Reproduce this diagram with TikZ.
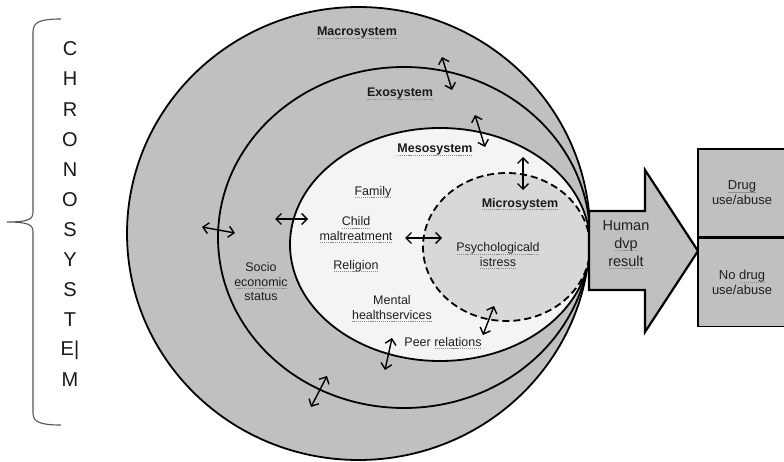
\documentclass[tikz,border=0pt]{standalone}
\usepackage{fontspec}
\setmainfont{Liberation Sans}
\usepackage{xcolor}
\usepackage{tikz}
\usetikzlibrary{arrows.meta,positioning}
\definecolor{ringgray}{RGB}{192,192,192}
\definecolor{mesofill}{RGB}{244,244,244}
\definecolor{microfill}{RGB}{216,216,216}
\definecolor{bracegray}{RGB}{85,85,85}
% spell-check style dotted underline
\newcommand\spell[1]{\leavevmode\setbox0\hbox{#1}\rlap{\copy0}\raisebox{-2.6pt}{\color{black!45}\hbox to \wd0{\xleaders\hbox{\kern0.4pt\rule{1.1pt}{0.8pt}\kern0.4pt}\hfill}}}

\begin{document}
\begin{tikzpicture}[
  x=1pt, y=-1pt,
  every node/.style={font=\fontsize{12.5}{14.5}\selectfont, text=black!88, align=center, inner sep=0pt}
]
  % Styles
  \tikzstyle{layer} = [draw=black, line width=1.8pt]
  \tikzstyle{title} = [font=\fontsize{12.5}{14.5}\selectfont\bfseries, text=black!90]
  \tikzstyle{link} = [<->, >={Straight Barb[length=5.5pt,width=11pt]}, line width=1.4pt]
  \tikzstyle{outcome} = [rectangle, draw=black, line width=1.6pt, fill=ringgray, minimum width=88pt, minimum height=88pt, font=\fontsize{13}{15}\selectfont]

  \useasboundingbox (0,0) rectangle (784,462);
  \fill[white] (0,0) rectangle (784,462);

  % Nested systems
  \draw[layer, fill=ringgray] (358.5,233.5) ellipse [x radius=231.5, y radius=226.5];
  \draw[layer, fill=ringgray] (404,237.5) ellipse [x radius=186, y radius=170.5];
  \draw[layer, fill=mesofill] (440,244.5) ellipse [x radius=150, y radius=116.5];
  \draw[layer, fill=microfill, dash pattern=on 7pt off 4pt] (506.5,247) ellipse [x radius=83.5, y radius=74];

  % Result arrow
  \draw[layer, line width=2.2pt, fill=ringgray, line join=miter] (589,211) -- (645,211) -- (645,170) -- (698,251) -- (645,332) -- (645,290) -- (589,290) -- cycle;
  \node[font=\fontsize{14.5}{18}\selectfont] (result) at (626,245) {Human\\\spell{dvp}\\\spell{result}};

  % Outcomes
  \node[outcome] (drug) at (742,193) {\spell{Drug}\\use/abuse};
  \node[outcome, below=0pt of drug] (nodrug) {No \spell{drug}\\use/abuse};

  % Labels
  \node[title] (macro) at (357,33) {\spell{Macrosystem}};
  \node[title] (exo) at (400,94) {\spell{Exosystem}};
  \node[title] (meso) at (435,150) {\spell{Mesosystem}};
  \node[title] (micro) at (520,204) {\spell{Microsystem}};
  \node (family) at (373,192) {\spell{Family}};
  \node (child) at (356,230) {\spell{Child}\\\spell{maltreatment}};
  \node (religion) at (356,266) {\spell{Religion}};
  \node (psych) at (498,256) {\spell{Psychologicald}\\\spell{istress}};
  \node (socio) at (261,282) {Socio\\\spell{economic}\\status};
  \node (mental) at (392,309) {Mental\\\spell{healthservices}};
  \node (peer) at (443,343) {Peer \spell{relations}};

  % Interactions between layers
  \foreach \n/\ax/\ay/\bx/\by in {macexo/442/57/452/90, exomeso/475/115/485/147,
      mesomicro/523/157/523/190, leftmac/202/227/235/233, leftexo/275/219/308/219,
      childmicro/405/238/442/238, microbot/494/306/483/335, mesobot/392/338/385/370,
      exobot/327/376/311/407}{
    \coordinate (\n-a) at (\ax,\ay);
    \coordinate (\n-b) at (\bx,\by);
    \draw[link] (\n-a) -- (\n-b);
  }

  % Chronosystem
  \foreach \l [count=\i from 0] in {C,H,R,O,N,O,S,Y,S,T,E|,M}
    \node[font=\fontsize{20}{21}\selectfont, text=black!90] (chr\i) at (70,49+30.1*\i) {\l};
  \coordinate (brtop) at (61,19);
  \coordinate (brtip) at (7,222);
  \coordinate (brbot) at (61,425);
  \draw[bracegray, line width=1.1pt] (brtop) .. controls (40,19) and (33,22) .. (33,32) -- (33,212)
    .. controls (33,219) and (29,222) .. (brtip)
    .. controls (29,222) and (33,225) .. (33,232) -- (33,413)
    .. controls (33,422) and (40,425) .. (brbot);
\end{tikzpicture}
\end{document}
